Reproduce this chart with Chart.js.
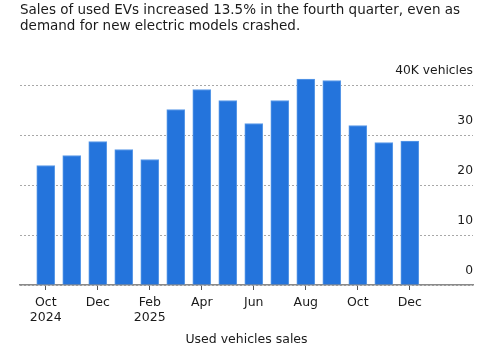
<!DOCTYPE html>
<html>
<head>
<meta charset="utf-8">
<script src="https://cdn.jsdelivr.net/npm/chart.js@4"></script>
<style>
  html, body { margin: 0; padding: 0; background: #fff; }
  #wrap { width: 500px; height: 360px; }
</style>
</head>
<body>
<div id="wrap"><canvas id="c" width="500" height="360"></canvas></div>
<script>
const months = ['Oct 2024','Nov 2024','Dec 2024','Jan 2025','Feb 2025','Mar 2025','Apr 2025','May 2025','Jun 2025','Jul 2025','Aug 2025','Sep 2025','Oct 2025','Nov 2025','Dec 2025'];
const salesK = [23.9, 25.9, 28.7, 27.1, 25.1, 35.1, 39.1, 36.9, 32.3, 36.9, 41.2, 40.9, 31.9, 28.5, 28.8];
const xTickLabels = [['Oct','2024'], 'Dec', ['Feb','2025'], 'Apr', 'Jun', 'Aug', 'Oct', 'Dec'];
const xTickIndex = [0, 2, 4, 6, 8, 10, 12, 14];
const yTickValues = [0, 10, 20, 30, 40];
const yTickLabels = ['0', '10', '20', '30', '40K vehicles'];
const titleLines = ['Sales of used EVs increased 13.5% in the fourth quarter, even as', 'demand for new electric models crashed.'];
const xAxisTitle = 'Used vehicles sales';

const FONT = "'DejaVu Sans', sans-serif";
const TEXT = '#1a1a1a';

const yLabelPlugin = {
  id: 'yLabels',
  afterDraw(chart) {
    const y = chart.scales.y;
    const ctx = chart.ctx;
    ctx.save();
    ctx.font = '12.3px ' + FONT;
    ctx.fillStyle = TEXT;
    ctx.textAlign = 'right';
    ctx.textBaseline = 'middle';
    yTickValues.forEach((v, i) => {
      ctx.fillText(yTickLabels[i], chart.chartArea.right, y.getPixelForValue(v) - 14);
    });
    ctx.restore();
  }
};

new Chart(document.getElementById('c'), {
  type: 'bar',
  data: {
    datasets: [{
      label: 'Used EV sales',
      data: salesK.map((v, i) => ({ x: i, y: v })),
      backgroundColor: '#2474dc',
      borderColor: '#5c9be8',
      borderWidth: 1,
      barThickness: 18
    }]
  },
  options: {
    responsive: false,
    animation: false,
    layout: { padding: { left: 20, right: 27, top: 0, bottom: 0 } },
    plugins: {
      legend: { display: false },
      tooltip: { enabled: false },
      title: {
        display: true,
        text: titleLines,
        align: 'start',
        color: TEXT,
        font: { family: FONT, size: 13.5, weight: 'normal', lineHeight: '16px' },
        padding: { top: 2, bottom: 36 }
      }
    },
    scales: {
      x: {
        type: 'linear',
        offset: false,
        min: -0.99,
        max: 16.43,
        afterBuildTicks(scale) { scale.ticks = xTickIndex.map(v => ({ value: v })); },
        afterFit(scale) { scale.height = 75; },
        ticks: {
          autoSkip: false,
          maxRotation: 0,
          padding: 5,
          color: TEXT,
          font: { family: FONT, size: 12.5, lineHeight: '15px' },
          callback: (value, index) => xTickLabels[index]
        },
        grid: { offset: false, drawOnChartArea: false, drawTicks: true, tickLength: 5, color: '#555', lineWidth: 1 },
        border: { display: true, color: '#8a8a8a', width: 1.5 },
        title: {
          display: true,
          text: xAxisTitle,
          color: TEXT,
          font: { family: FONT, size: 12.5 },
          padding: { top: 8, bottom: 13 }
        }
      },
      y: {
        position: 'right',
        min: 0,
        max: 43,
        afterBuildTicks(scale) { scale.ticks = yTickValues.map(v => ({ value: v })); },
        ticks: { display: false },
        grid: { color: '#a8a8a8', lineWidth: 1, drawTicks: false },
        border: { display: false, dash: [2, 2] }
      }
    }
  },
  plugins: [yLabelPlugin]
});
</script>
</body>
</html>
